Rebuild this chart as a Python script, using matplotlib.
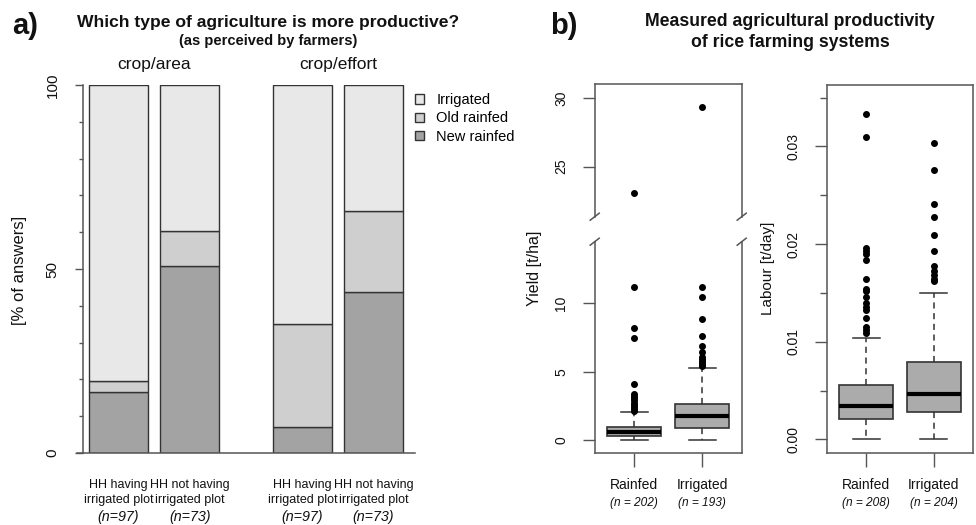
import matplotlib.pyplot as plt
from matplotlib.transforms import offset_copy

plt.rcParams['font.family'] = ['Liberation Sans', 'DejaVu Sans']

W, H = 976, 525

# --- panel a: perceived productivity (% of answers) ---
groups = ['crop/area', 'crop/effort']
hh_labels = ['HH having\nirrigated plot', 'HH not having\nirrigated plot',
             'HH having\nirrigated plot', 'HH not having\nirrigated plot']
hh_n = ['(n=97)', '(n=73)', '(n=97)', '(n=73)']
new_rainfed = [16.5, 50.7, 7.2, 43.8]
old_rainfed = [3.1, 9.6, 27.8, 21.9]
irrigated = [80.4, 39.7, 65.0, 34.3]

# --- panel b: measured productivity (box plot summaries) ---
systems = ['Rainfed', 'Irrigated']
yield_n = ['(n = 202)', '(n = 193)']
labour_n = ['(n = 208)', '(n = 204)']

yield_q1 = [0.32, 0.85]
yield_med = [0.60, 1.76]
yield_q3 = [0.97, 2.63]
yield_lo = [0.0, 0.0]
yield_hi = [2.07, 5.24]
yield_out_rainfed = [2.15, 2.3, 2.45, 2.55, 2.7, 2.9, 3.05, 3.25, 3.4, 4.1,
                     7.5, 8.2, 11.2, 23.1]
yield_out_irrigated = [5.4, 5.5, 5.6, 5.75, 5.9, 6.1, 6.45, 6.9, 7.6, 8.85,
                       10.5, 11.2, 29.4]

labour_q1 = [0.00205, 0.00277]
labour_med = [0.00341, 0.00461]
labour_q3 = [0.00553, 0.00792]
labour_lo = [0.0, 0.0]
labour_hi = [0.01035, 0.01496]
labour_out_rainfed = [0.0109, 0.0112, 0.0115, 0.0124, 0.0133, 0.0136, 0.0140,
                      0.0146, 0.0152, 0.0154, 0.0164, 0.0184, 0.0190, 0.0193,
                      0.0196, 0.0310, 0.0333]
labour_out_irrigated = [0.0162, 0.0164, 0.0168, 0.0172, 0.0178, 0.0193, 0.0209,
                        0.0228, 0.0241, 0.0276, 0.0304]

c_irr, c_old, c_new = '#E8E8E8', '#CFCFCF', '#A3A3A3'
c_box = '#ABABAB'
c_edge = '#333333'
c_frame = '#555555'
c_text = '#111111'

fig = plt.figure(figsize=(W / 100, H / 100), dpi=100)


def add_ax(left, top, right, bottom):
    return fig.add_axes([left / W, 1 - bottom / H, (right - left) / W, (bottom - top) / H])


def ftext(x, y, s, **kw):
    kw.setdefault('color', c_text)
    return fig.text(x / W, 1 - y / H, s, **kw)


# ================= panel a =================
ax = add_ax(83, 85, 415, 453)
xpos = [0.5, 1.7, 3.6, 4.8]
ax.bar(xpos, new_rainfed, width=1, color=c_new, edgecolor=c_edge, lw=1, label='New rainfed')
ax.bar(xpos, old_rainfed, width=1, bottom=new_rainfed, color=c_old, edgecolor=c_edge, lw=1,
       label='Old rainfed')
bot2 = [a + b for a, b in zip(new_rainfed, old_rainfed)]
ax.bar(xpos, irrigated, width=1, bottom=bot2, color=c_irr, edgecolor=c_edge, lw=1, label='Irrigated')
ax.set_xlim(-0.1, 5.5)
ax.set_ylim(0, 100)
for s in ['top', 'right', 'bottom']:
    ax.spines[s].set_visible(False)
ax.spines['left'].set_color(c_frame)
ax.spines['left'].set_linewidth(1.1)
ax.axhline(0, xmin=-0.018, xmax=1, color=c_frame, lw=1.1, clip_on=False)
ax.set_yticks([0, 50, 100])
ax.set_yticks([10, 20, 30, 40, 60, 70, 80, 90], minor=True)
ax.tick_params(axis='y', which='major', length=6, width=1, color=c_frame, labelsize=11,
               pad=11, labelcolor=c_text)
ax.tick_params(axis='y', which='minor', length=3, width=1, color=c_frame)
for t in ax.get_yticklabels():
    t.set_rotation(90)
    t.set_va('center')
ax.set_xticks(xpos)
ax.set_xticklabels(hh_labels, fontsize=9, color=c_text, linespacing=1.25)
ax.tick_params(axis='x', length=0, pad=19)
for x, n in zip(xpos, hh_n):
    ax.text(x, 0, n, transform=offset_copy(ax.get_xaxis_transform(), fig=fig, y=-64, units='dots'),
            ha='center', va='center', fontsize=10.3, style='italic', color=c_text)
for x, g in zip([1.1, 4.2], groups):
    ax.text(x, 100, g, transform=offset_copy(ax.transData, fig=fig, y=20, units='dots'),
            ha='center', va='center', fontsize=12.5, color=c_text)
h, l = ax.get_legend_handles_labels()
ax.legend(h[::-1], l[::-1], loc='upper left', bbox_to_anchor=(415 / W, 1 - 93 / H),
          bbox_transform=fig.transFigure, frameon=False, fontsize=10.5,
          handlelength=0.62, handleheight=0.62, handletextpad=0.85, labelspacing=0.3,
          borderpad=0, borderaxespad=0)
ftext(20, 270, '[% of answers]', rotation=90, ha='center', va='center', fontsize=12)

ftext(12, 26, 'a)', fontsize=21, weight='bold', ha='left', va='center')
ftext(268, 22, 'Which type of agriculture is more productive?', fontsize=12.6,
      weight='bold', ha='center', va='center')
ftext(268, 41, '(as perceived by farmers)', fontsize=10.5, weight='bold',
      ha='center', va='center')


# ================= panel b =================
def stats(q1, med, q3, lo, hi, out):
    return dict(q1=q1, med=med, q3=q3, whislo=lo, whishi=hi, fliers=out)


def draw_box(ax, st):
    ax.bxp(st, positions=[1, 2], widths=0.8, capwidths=0.4, patch_artist=True,
           boxprops=dict(facecolor=c_box, edgecolor=c_edge, lw=1.2),
           medianprops=dict(color='black', lw=3, solid_capstyle='butt'),
           whiskerprops=dict(color=c_edge, lw=1.1, linestyle=(0, (4, 3))),
           capprops=dict(color=c_edge, lw=1.1),
           flierprops=dict(marker='o', markersize=4, markerfacecolor='black',
                           markeredgecolor='black'),
           manage_ticks=False)
    ax.set_xlim(0.42, 2.58)
    for s in ax.spines.values():
        s.set_color(c_frame)
        s.set_linewidth(1.1)
    ax.tick_params(axis='y', which='major', length=9, width=1, color=c_frame,
                   labelsize=10, labelcolor=c_text)
    ax.tick_params(axis='y', which='minor', length=5, width=1, color=c_frame)


def x_labels(ax, n_labels):
    ax.set_xticks([1, 2])
    ax.set_xticklabels(systems, fontsize=10, color=c_text)
    ax.tick_params(axis='x', length=10, width=1, color=c_frame, pad=8)
    tr = offset_copy(ax.get_xaxis_transform(), fig=fig, y=-50, units='dots')
    for x, n in zip([1, 2], n_labels):
        ax.text(x, 0, n, transform=tr, ha='center', va='center', fontsize=8.6,
                style='italic', color=c_text)


def rot_labels(ax):
    for t in ax.get_yticklabels():
        t.set_rotation(90)
        t.set_va('center')


yst = [stats(yield_q1[i], yield_med[i], yield_q3[i], yield_lo[i], yield_hi[i], o)
       for i, o in enumerate([yield_out_rainfed, yield_out_irrigated])]
lst = [stats(labour_q1[i], labour_med[i], labour_q3[i], labour_lo[i], labour_hi[i], o)
       for i, o in enumerate([labour_out_rainfed, labour_out_irrigated])]

# yield: broken axis (two stacked axes)
ay_top = add_ax(594.7, 84, 741.7, 216.7)
ay_bot = add_ax(594.7, 241.7, 741.7, 453.3)
for a in (ay_top, ay_bot):
    draw_box(a, yst)
ay_top.set_ylim(21.34, 31.05)
ay_bot.set_ylim(-0.973, 14.51)
ay_top.set_yticks([25, 30])
ay_bot.set_yticks([0, 5, 10])
ay_top.spines['bottom'].set_visible(False)
ay_bot.spines['top'].set_visible(False)
ay_top.set_xticks([])
for a in (ay_top, ay_bot):
    a.tick_params(axis='y', pad=10)
    rot_labels(a)
x_labels(ay_bot, yield_n)
# break marks
dx = 4.5 / 147
for a, hpx, yb in ((ay_top, 132.7, 0), (ay_bot, 211.6, 1)):
    dy = 3.5 / hpx
    for xb in (0, 1):
        a.plot([xb - dx, xb + dx], [yb - dy, yb + dy], transform=a.transAxes,
               color=c_frame, lw=1.1, clip_on=False)
ftext(535, 268, 'Yield [t/ha]', rotation=90, ha='center', va='center', fontsize=11.5)

# labour
al = add_ax(827.3, 84.7, 972.7, 453)
draw_box(al, lst)
al.set_ylim(-0.0014, 0.03633)
al.set_yticks([0, 0.01, 0.02, 0.03])
al.set_yticklabels(['0.00', '0.01', '0.02', '0.03'])
al.set_yticks([0.005, 0.015, 0.025, 0.035], minor=True)
al.tick_params(axis='y', pad=10)
rot_labels(al)
x_labels(al, labour_n)
ftext(768, 268, 'Labour [t/day]', rotation=90, ha='center', va='center', fontsize=11)

ftext(550, 26, 'b)', fontsize=21, weight='bold', ha='left', va='center')
ftext(790, 32, 'Measured agricultural productivity\nof rice farming systems',
      fontsize=12.7, weight='bold', ha='center', va='center', linespacing=1.3)

fig.savefig('out.png', dpi=100)
